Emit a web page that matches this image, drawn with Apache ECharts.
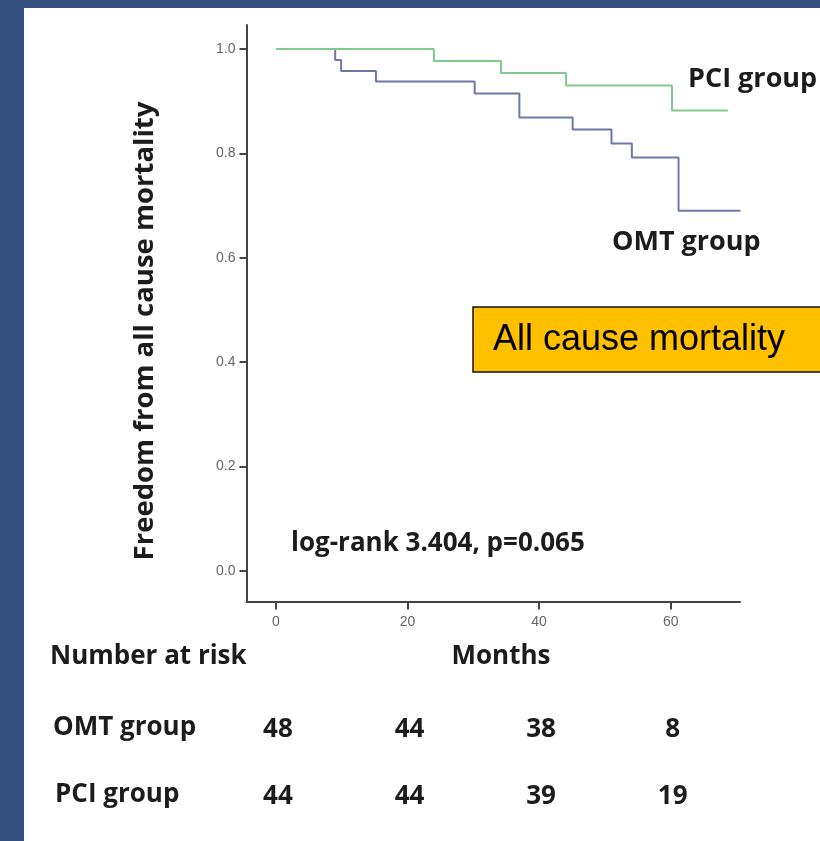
<!DOCTYPE html>
<html><head><meta charset="utf-8">
<script src="https://cdn.jsdelivr.net/npm/echarts@6/dist/echarts.min.js"></script>
<style>
html,body{margin:0;padding:0;background:#33507e;overflow:hidden;}
#wrap{position:absolute;left:24px;top:8px;width:796px;height:833px;background:#fff;}
#c{position:absolute;left:0;top:0;width:820px;height:841px;}
</style>
</head><body><div id="wrap"></div><div id="c"></div>
<script>
const monthTicks = [0, 20, 40, 60];
const survTicks = [0, 0.2, 0.4, 0.6, 0.8, 1.0];
const pciTime = [0, 24.0, 34.2, 44.1, 60.2, 68.7];
const pciSurv = [1.0, 0.977, 0.954, 0.930, 0.882, 0.882];
const omtTime = [0, 9.0, 9.9, 15.2, 30.2, 37.0, 45.1, 51.0, 54.1, 61.2, 70.6];
const omtSurv = [1.0, 0.979, 0.958, 0.938, 0.915, 0.869, 0.846, 0.819, 0.792, 0.690, 0.690];
const riskGroups = ['OMT group', 'PCI group'];
const omtAtRisk = [48, 44, 38, 8];
const pciAtRisk = [44, 44, 39, 19];

const chart = echarts.init(document.getElementById('c'), null, {renderer: 'canvas'});
const axisColor = '#444';
const boldFont = '"Open Sans", "Noto Sans", sans-serif';
const txt = '#1c1c1c';

chart.setOption({
  backgroundColor: 'transparent',
  animation: false,
  grid: {left: 246.5, right: 80, top: 25, bottom: 239.5},
  xAxis: {
    type: 'value', min: -4.48, max: 70.54,
    axisLine: {show: true, onZero: false, lineStyle: {color: axisColor, width: 2}},
    axisTick: {show: true, inside: false, customValues: monthTicks, length: 8, lineStyle: {color: axisColor, width: 2}},
    axisLabel: {customValues: monthTicks, color: '#666', fontSize: 14, margin: 14, fontFamily: 'Liberation Sans'},
    splitLine: {show: false}
  },
  yAxis: {
    type: 'value', min: -0.0584, max: 1.046,
    axisLine: {show: true, onZero: false, lineStyle: {color: axisColor, width: 2}},
    axisTick: {show: true, inside: false, customValues: survTicks, length: 7, lineStyle: {color: axisColor, width: 2}},
    axisLabel: {customValues: survTicks, color: '#666', fontSize: 14, margin: 11, fontFamily: 'Liberation Sans',
      formatter: v => v.toFixed(1)},
    splitLine: {show: false}
  },
  series: [
    {type: 'line', step: 'end', symbol: 'none', data: omtTime.map((t, i) => [t, omtSurv[i]]),
      lineStyle: {color: '#7078aa', width: 2}},
    {type: 'line', step: 'end', symbol: 'none', data: pciTime.map((t, i) => [t, pciSurv[i]]),
      lineStyle: {color: '#82c98f', width: 2}}
  ]
});

const g = [];
function T(text, x, y, size, opts) {
  opts = opts || {};
  g.push({type: 'text', x: x, y: y, rotation: opts.rot || 0, z: 10,
    style: {text: text, font: (opts.weight || 'bold') + ' ' + size + 'px ' + (opts.family || boldFont),
      fill: opts.fill || txt, textAlign: opts.align || 'left', textVerticalAlign: 'middle'}});
}
// y-axis title
T('Freedom from all cause mortality', 145, 331, 27.5, {rot: Math.PI / 2, align: 'center'});
// curve labels
T('PCI group', 688, 79, 27);
T('OMT group', 612, 242, 27);
T('log-rank 3.404, p=0.065', 291, 544, 26);
// annotation box
g.push({type: 'rect', shape: {x: 473, y: 307, width: 360, height: 65}, z: 5,
  style: {fill: '#ffc000', stroke: '#111', lineWidth: 1.5}});
T('All cause mortality', 493, 340, 36, {weight: 'normal', family: '"Liberation Sans", Arial, sans-serif', fill: '#000'});
// risk table
T('Number at risk', 50, 657, 26);
T('Months', 501, 657, 26, {align: 'center'});
T(riskGroups[0], 53, 728, 26);
T(riskGroups[1], 55, 795, 26);
monthTicks.forEach((m, i) => {
  const px = chart.convertToPixel({xAxisIndex: 0}, m);
  T(String(omtAtRisk[i]), px + 2, 730, 26, {align: 'center'});
  T(String(pciAtRisk[i]), px + 2, 797, 26, {align: 'center'});
});
chart.setOption({graphic: g});
</script>
</body></html>
